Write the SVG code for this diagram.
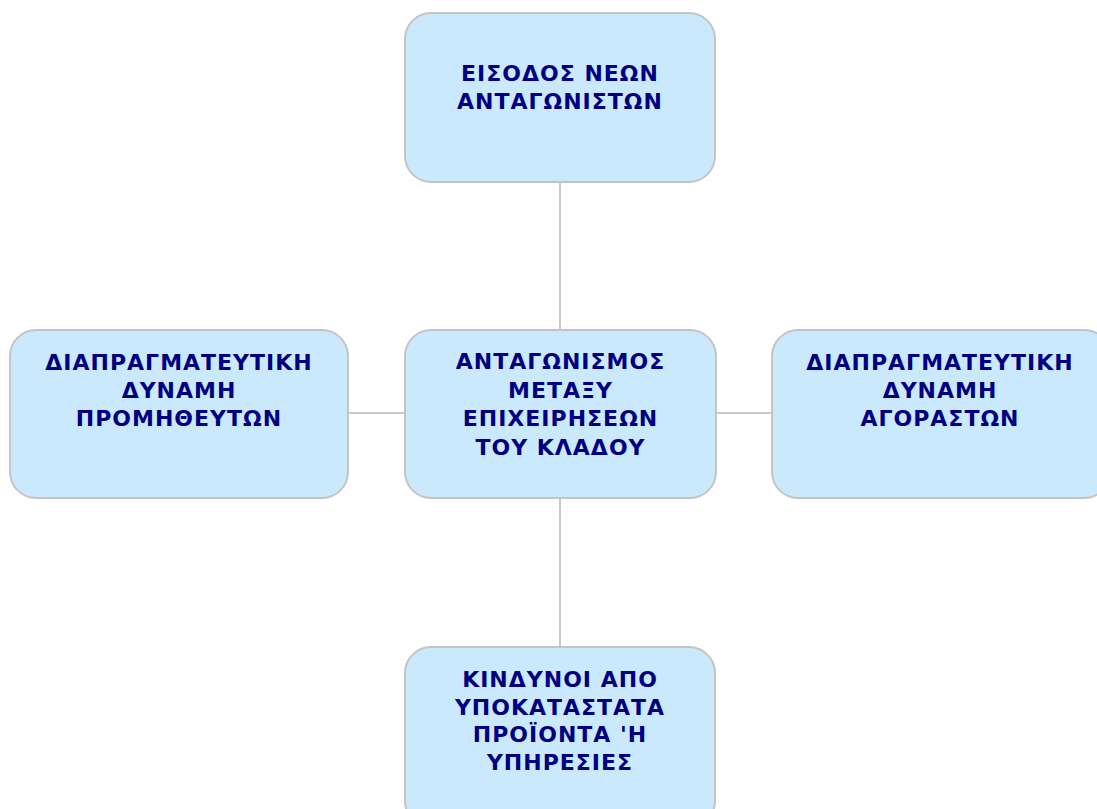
<svg xmlns="http://www.w3.org/2000/svg" width="1097" height="809" viewBox="0 0 1097 809">
  <style>
    .box { fill: #cbe9fd; stroke: #c4c4c4; stroke-width: 2; }
    .lbl { font-family: "DejaVu Sans", Verdana, sans-serif; font-weight: bold; font-size: 22px; fill: #000080; text-anchor: middle; letter-spacing: 1px; }
    .conn { stroke: #c8c8c8; stroke-width: 2; fill: none; }
  </style>
  <rect width="1097" height="809" fill="#ffffff"/>
  <g id="connectors">
    <line class="conn" x1="560" y1="182" x2="560" y2="330"/>
    <line class="conn" x1="560" y1="498" x2="560" y2="647"/>
    <line class="conn" x1="348" y1="413" x2="405" y2="413"/>
    <line class="conn" x1="716" y1="413" x2="772" y2="413"/>
  </g>
  <g id="node-entry">
    <rect class="box" x="405" y="13" width="310" height="169" rx="26"/>
    <text class="lbl" x="560" y="81">ΕΙΣΟΔΟΣ ΝΕΩΝ</text>
    <text class="lbl" x="560" y="109">ΑΝΤΑΓΩΝΙΣΤΩΝ</text>
  </g>
  <g id="node-rivalry">
    <rect class="box" x="405" y="330" width="311" height="168" rx="26"/>
    <text class="lbl" x="560.5" y="369">ΑΝΤΑΓΩΝΙΣΜΟΣ</text>
    <text class="lbl" x="560.5" y="398">ΜΕΤΑΞΥ</text>
    <text class="lbl" x="560.5" y="426">ΕΠΙΧΕΙΡΗΣΕΩΝ</text>
    <text class="lbl" x="560.5" y="455">ΤΟΥ ΚΛΑΔΟΥ</text>
  </g>
  <g id="node-suppliers">
    <rect class="box" x="10" y="330" width="338" height="168" rx="26"/>
    <text class="lbl" x="179" y="370">ΔΙΑΠΡΑΓΜΑΤΕΥΤΙΚΗ</text>
    <text class="lbl" x="179" y="398">ΔΥΝΑΜΗ</text>
    <text class="lbl" x="179" y="426">ΠΡΟΜΗΘΕΥΤΩΝ</text>
  </g>
  <g id="node-buyers">
    <rect class="box" x="772" y="330" width="338" height="168" rx="26"/>
    <text class="lbl" x="940" y="370">ΔΙΑΠΡΑΓΜΑΤΕΥΤΙΚΗ</text>
    <text class="lbl" x="940" y="398">ΔΥΝΑΜΗ</text>
    <text class="lbl" x="940" y="426">ΑΓΟΡΑΣΤΩΝ</text>
  </g>
  <g id="node-substitutes">
    <rect class="box" x="405" y="647" width="310" height="180" rx="26"/>
    <text class="lbl" x="560" y="687">ΚΙΝΔΥΝΟΙ ΑΠΟ</text>
    <text class="lbl" x="560" y="715">ΥΠΟΚΑΤΑΣΤΑΤΑ</text>
    <text class="lbl" x="560" y="742">ΠΡΟΪΟΝΤΑ 'Η</text>
    <text class="lbl" x="560" y="770">ΥΠΗΡΕΣΙΕΣ</text>
  </g>
</svg>
